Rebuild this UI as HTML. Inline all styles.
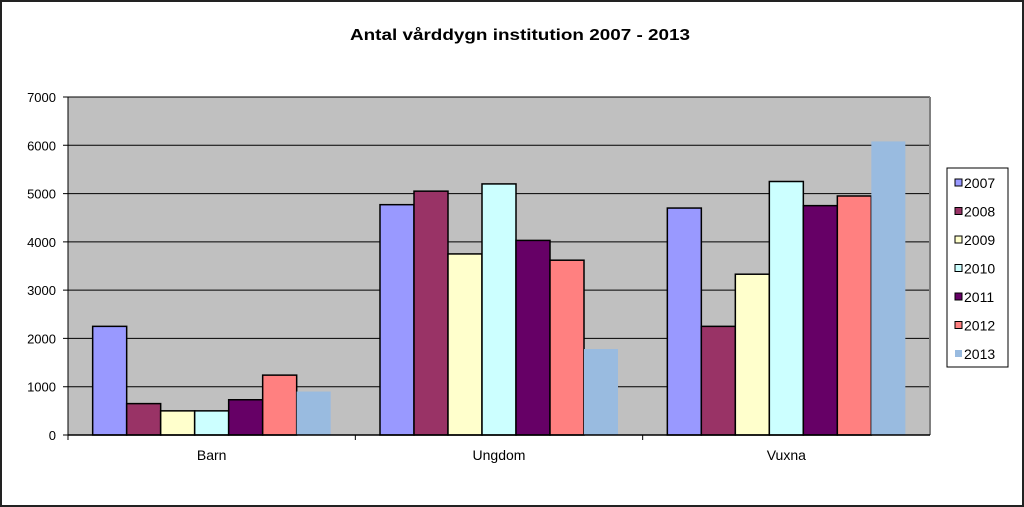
<!DOCTYPE html>
<html><head><meta charset="utf-8"><style>
html,body{margin:0;padding:0;background:#fff}
svg{display:block;font-family:"Liberation Sans",Arial,sans-serif}
</style></head><body>
<svg width="1024" height="507" viewBox="0 0 1024 507">
<rect x="1" y="1" width="1022" height="505" fill="#fff" stroke="#222" stroke-width="2"/>
<text x="520" y="40" text-anchor="middle" font-size="16" font-weight="bold" textLength="340" lengthAdjust="spacingAndGlyphs">Antal vårddygn institution 2007 - 2013</text>
<g id="plot"></g>
<g id="legend"></g>
</svg>
<script>
const categories=["Barn","Ungdom","Vuxna"];
const seriesNames=["2007","2008","2009","2010","2011","2012","2013"];
const s2007=[2250,4770,4700];
const s2008=[650,5050,2250];
const s2009=[500,3750,3330];
const s2010=[500,5200,5250];
const s2011=[730,4030,4750];
const s2012=[1240,3620,4950];
const s2013=[900,1780,6080];
const yTicks=[0,1000,2000,3000,4000,5000,6000,7000];
const series=[s2007,s2008,s2009,s2010,s2011,s2012,s2013];
const colors=["#9999FF","#993366","#FFFFCC","#CCFFFF","#660066","#FF8080","#99BBE0"];
const NS="http://www.w3.org/2000/svg";
const L=68,R=930,T=97,B=435,maxV=7000;
const y=v=>B-(v/maxV)*(B-T);
const catW=(R-L)/categories.length;
const barW=34, pad=(catW-barW*7)/2;
const x=(c,s)=>L+c*catW+pad+s*barW;
function mk(tag,attrs,parent){const e=document.createElementNS(NS,tag);for(const k in attrs)e.setAttribute(k,attrs[k]);parent.appendChild(e);return e;}
const plot=document.getElementById('plot');
const bg=mk('rect',{x:L,y:T,width:R-L,height:B-T,fill:'#C0C0C0'},plot);


yTicks.forEach(t=>{
  const g=mk('line',{x1:L-5,x2:R,y1:y(t),y2:y(t),stroke:'#000','stroke-width':1},plot);
  
  
  const tx=mk('text',{x:L-12,y:y(t)+5,'text-anchor':'end','font-size':13},plot);
  tx.textContent=t;
  
  
});
series.forEach((vals,s)=>{
  vals.forEach((v,c)=>{
    const r=mk('rect',{x:x(c,s),y:y(v),width:barW,height:B-y(v),fill:colors[s]},plot);
    if(s<6){r.setAttribute('stroke','#000');r.setAttribute('stroke-width','1.5');}
    
    
  });
});
const ax=mk('line',{x1:L,x2:L,y1:T,y2:B,stroke:'#000','stroke-width':1},plot);


const rb=mk('line',{x1:R,x2:R,y1:T,y2:B,stroke:'#808080','stroke-width':2},plot);


const xa=mk('line',{x1:L,x2:R,y1:B,y2:B,stroke:'#000','stroke-width':1.5},plot);


categories.forEach((c,i)=>{
  for(const tx0 of [L+i*catW]){const tk=mk('line',{x1:tx0,x2:tx0,y1:B,y2:B+5,stroke:'#000'},plot);
  
  }
  const t=mk('text',{x:L+(i+0.5)*catW,y:460,'text-anchor':'middle','font-size':14},plot);
  t.textContent=c;
  
  
});
const lg=document.getElementById('legend');
const lb=mk('rect',{x:947,y:168,width:61,height:199,fill:'#fff',stroke:'#000'},lg);


seriesNames.forEach((n,i)=>{
  const yy=183+i*28.5;
  const sq=mk('rect',{x:955,y:yy-4,width:7,height:7,fill:colors[i]},lg);
  if(i<6)sq.setAttribute('stroke','#000');
  
  
  const t=mk('text',{x:964,y:yy+5,'font-size':14},lg);
  t.textContent=n;
  
  
});
</script>
</body></html>
